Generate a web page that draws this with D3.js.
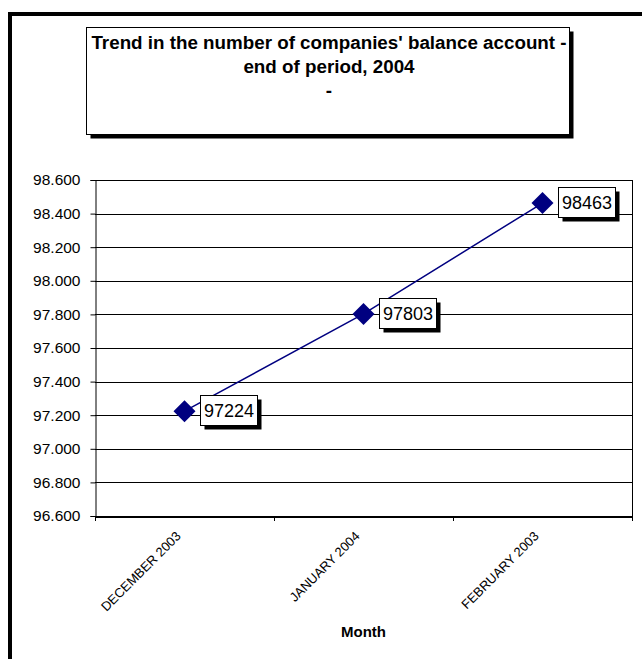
<!DOCTYPE html>
<html><head><meta charset="utf-8">
<script src="https://cdn.jsdelivr.net/npm/d3@7"></script>
<style>body{margin:0;background:#fff}svg{display:block}text{font-family:"Liberation Sans",Arial,sans-serif}</style>
</head><body>
<script>
const categories = ["DECEMBER 2003", "JANUARY 2004", "FEBRUARY 2003"];
const values = [97224, 97803, 98463];
const yTicks = [96600, 96800, 97000, 97200, 97400, 97600, 97800, 98000, 98200, 98400, 98600];
const titleLines = ["Trend in the number of companies' balance account -", "end of period, 2004", "-"];
const xTitle = "Month";

const W = 642, H = 659;
const svg = d3.select("body").append("svg").attr("width", W).attr("height", H);

// outer thick frame (extends beyond the picture)
svg.append("rect").attr("x", 10).attr("y", 14).attr("width", 700).attr("height", 700)
  .attr("fill", "none").attr("stroke", "#000").attr("stroke-width", 4);

// title box with shadow
const tb = {x: 86.5, y: 27.5, w: 483, h: 107};
svg.append("rect").attr("x", tb.x + 4).attr("y", tb.y + 4).attr("width", tb.w).attr("height", tb.h).attr("fill", "#000");
svg.append("rect").attr("x", tb.x).attr("y", tb.y).attr("width", tb.w).attr("height", tb.h)
  .attr("fill", "#fff").attr("stroke", "#000").attr("stroke-width", 1);
svg.append("g").selectAll("text").data(titleLines).join("text")
  .attr("x", tb.x + tb.w / 2 + 1).attr("y", (d, i) => 49 + i * 24)
  .attr("text-anchor", "middle").attr("font-weight", "bold").attr("font-size", 18.8)
  .attr("fill", "#000").text(d => d);

const plot = {l: 95, r: 632, t: 180, b: 516};
const x = d3.scaleBand().domain(categories).range([plot.l, plot.r]);
const y = d3.scaleLinear().domain([96600, 98600]).range([plot.b, plot.t]);

// gridlines
svg.append("g").selectAll("line").data(yTicks).join("line")
  .attr("x1", plot.l).attr("x2", plot.r)
  .attr("y1", d => Math.round(y(d)) + 0.5).attr("y2", d => Math.round(y(d)) + 0.5)
  .attr("stroke", "#000").attr("stroke-width", 1);
// right border
svg.append("line").attr("x1", plot.r + 0.5).attr("x2", plot.r + 0.5).attr("y1", plot.t).attr("y2", plot.b)
  .attr("stroke", "#000");

// y axis
const fmt = v => d3.format(".3f")(v / 1000);
const yAxis = svg.append("g").attr("transform", `translate(${plot.l + 0.5},0)`)
  .call(d3.axisLeft(y).tickValues(yTicks).tickFormat(fmt).tickSize(5).tickPadding(10));
yAxis.select(".domain").attr("stroke", "#000");
yAxis.selectAll("text").attr("font-size", 15.5).attr("fill", "#000").attr("font-family", '"Liberation Sans",Arial,sans-serif');

// x axis
const xAxis = svg.append("g").attr("transform", `translate(0,${plot.b + 0.5})`)
  .call(d3.axisBottom(x).tickSize(0).tickFormat(""));
xAxis.select(".domain").attr("stroke", "#000").attr("stroke-width", 2);
// boundary ticks
const bounds = categories.map(c => x(c)).concat([plot.r]);
svg.append("g").selectAll("line").data(bounds).join("line")
  .attr("x1", d => Math.round(d) + 0.5).attr("x2", d => Math.round(d) + 0.5)
  .attr("y1", plot.b).attr("y2", plot.b + 5).attr("stroke", "#000");
// rotated labels
svg.append("g").selectAll("text").data(categories).join("text")
  .attr("transform", d => `translate(${x(d) + x.bandwidth() / 2 - 3},${plot.b + 21}) rotate(-45)`)
  .attr("text-anchor", "end").attr("font-size", 13).attr("fill", "#000").text(d => d);

svg.append("text").attr("x", (plot.l + plot.r) / 2).attr("y", 637)
  .attr("text-anchor", "middle").attr("font-weight", "bold").attr("font-size", 15).text(xTitle);

// line
const pts = categories.map((c, i) => ({c, v: values[i]}));
svg.append("path").datum(pts)
  .attr("d", d3.line().x(d => x(d.c) + x.bandwidth() / 2).y(d => y(d.v)))
  .attr("fill", "none").attr("stroke", "#000080").attr("stroke-width", 1.5);
svg.append("g").selectAll("path").data(pts).join("path")
  .attr("transform", d => `translate(${x(d.c) + x.bandwidth() / 2},${y(d.v)})`)
  .attr("d", "M0,-11L11,0L0,11L-11,0Z").attr("fill", "#000080");

// data labels
const lab = svg.append("g").selectAll("g").data(pts).join("g")
  .attr("transform", d => `translate(${Math.round(x(d.c) + x.bandwidth() / 2) + 15},${Math.round(y(d.v)) - 16})`);
lab.append("rect").attr("x", 4.5).attr("y", 4.5).attr("width", 57).attr("height", 30).attr("fill", "#000");
lab.append("rect").attr("x", 0.5).attr("y", 0.5).attr("width", 57).attr("height", 30)
  .attr("fill", "#fff").attr("stroke", "#000");
lab.append("text").attr("x", 29).attr("y", 22).attr("text-anchor", "middle")
  .attr("font-size", 18).attr("fill", "#000").text(d => d.v);
</script>
</body></html>
